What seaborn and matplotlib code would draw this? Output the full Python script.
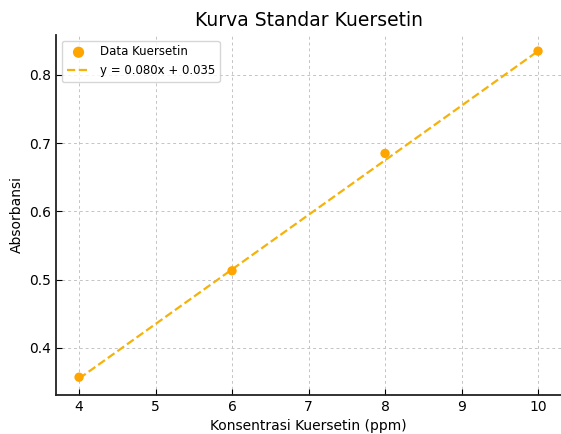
import numpy as np
import matplotlib
matplotlib.use("Agg")
import matplotlib.pyplot as plt
import seaborn as sns

# data
konsentrasi = [4, 6, 8, 10]
absorbansi = [0.357, 0.513, 0.685, 0.835]
slope = 0.080
intercept = 0.035

sns.set_style("whitegrid", {
    "grid.linestyle": (0, (3, 3)),
    "grid.color": "#c4c4c4",
    "axes.edgecolor": "#222222",
    "xtick.direction": "in",
    "ytick.direction": "in",
    "text.color": "black",
    "axes.labelcolor": "black",
    "xtick.color": "black",
    "ytick.color": "black",
})
plt.rcParams["font.family"] = ["DejaVu Sans"]
plt.rcParams["grid.linewidth"] = 0.7

fig, ax = plt.subplots(figsize=(5.61, 4.34), dpi=100)

sns.scatterplot(x=konsentrasi, y=absorbansi, ax=ax, color="orange", s=45,
                edgecolor="none", label="Data Kuersetin", zorder=3)
fit_y = [slope * x + intercept for x in konsentrasi]
sns.lineplot(x=konsentrasi, y=fit_y, ax=ax, color="#F5B20A", linestyle="--",
             linewidth=1.6, label=f"y = {slope:.3f}x + {intercept:.3f}")

ax.set_title("Kurva Standar Kuersetin", fontsize=13.5)
ax.set_xlabel("Konsentrasi Kuersetin (ppm)", fontsize=10)
ax.set_ylabel("Absorbansi", fontsize=10)
ax.tick_params(labelsize=10, length=4, left=True, bottom=True)
ax.set_yticks([0.4, 0.5, 0.6, 0.7, 0.8])
ax.margins(0.05)

for s in ["top", "right"]:
    ax.spines[s].set_visible(False)
for s in ["left", "bottom"]:
    ax.spines[s].set_linewidth(1.3)

ax.legend(loc="upper left", fontsize=8.5, frameon=True, markerscale=1.2)

plt.subplots_adjust(left=0.1, right=1.0, top=0.92, bottom=0.09)
plt.savefig("out.png", dpi=100)
plt.close()
